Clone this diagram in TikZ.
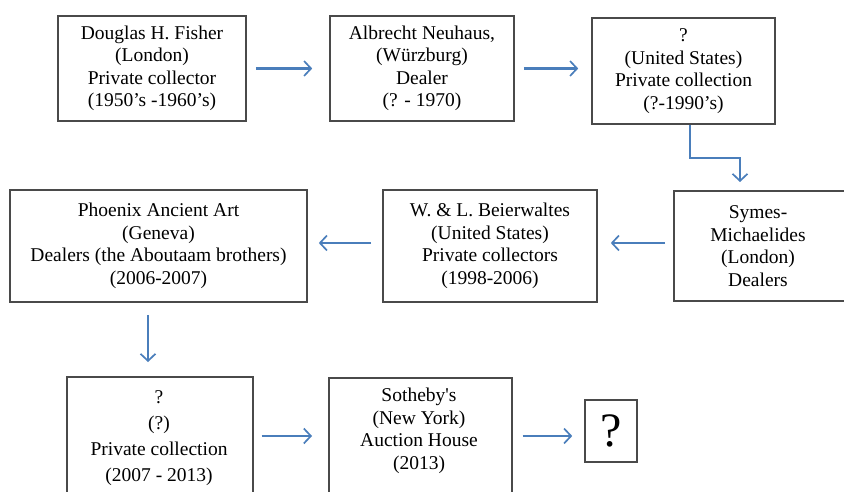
\documentclass[tikz,border=0pt]{standalone}
\usepackage{fontspec}
\setmainfont{Liberation Serif}
\usetikzlibrary{arrows.meta}
\definecolor{arrblue}{HTML}{4A7EBB}
\definecolor{boxgray}{HTML}{4A4A4A}
\begin{document}
\begin{tikzpicture}[x=1pt,y=-1pt,
  txt/.style={align=center,inner sep=0pt,font=\fontsize{19.5}{22.5}\selectfont},
  box/.style={draw=boxgray,line width=1.6pt,fill=white,txt},
  flow/.style={draw=arrblue,line width=2.1pt,-{Straight Barb[length=7pt,width=15pt,line width=1.7pt]}}]
\useasboundingbox (0,0) rectangle (844,492);
% helper: box from corner coordinates
\newcommand{\provbox}[6]{%
  \node[box,minimum width=#4-#2,minimum height=#5-#3] (#1) at ({(#2+#4)/2},{(#3+#5)/2}) {#6};}
\provbox{b1}{58}{16}{246}{121}{Douglas H. Fisher\\(London)\\Private collector\\(1950’s -1960’s)}
\provbox{b2}{330}{16}{514}{121}{Albrecht Neuhaus,\\(Würzburg)\\Dealer\\(? - 1970)}
\provbox{b3}{592}{18}{775}{124}{?\\(United States)\\Private collection\\(?-1990’s)}
\node[box,minimum width=200,minimum height=110,anchor=north west] (b4) at (673,190) {};
\node[txt] (b4t) at (758,246) {Symes-\\Michaelides\\(London)\\Dealers};
\provbox{b5}{383}{190}{597}{302}{W. \& L. Beierwaltes\\(United States)\\Private collectors\\(1998-2006)}
\provbox{b6}{10}{190}{307}{302}{Phoenix Ancient Art\\(Geneva)\\Dealers (the Aboutaam brothers)\\(2006-2007)}
\node[box,minimum width=186,minimum height=130,anchor=north west] (b7) at (66,376) {};
\node[txt,font=\fontsize{19.5}{26}\selectfont] (b7t) at (159,438) {?\\(?)\\Private collection\\(2007 - 2013)};
\node[box,minimum width=183,minimum height=130,anchor=north west] (b8) at (328,377) {};
\node[txt] (b8t) at (419,431) {Sotheby\textquotesingle s\\(New York)\\Auction House\\(2013)};
\provbox{b9}{585}{400}{637}{462}{\fontsize{48}{48}\selectfont ?}
% connectors
\coordinate (e1) at (690,158);
\coordinate (e2) at (740,158);
\draw[flow] ([xshift=9]b1.east) -- ([xshift=-17]b1.east -| b2.west);
\draw[flow] ([xshift=9]b2.east) -- ([xshift=-13]b2.east -| b3.west);
\draw[flow] (b3.south -| e1) -- (e1) -- (e2) -- ([yshift=8]b4.north -| e2);
\draw[flow] ([xshift=-8]b4.west |- 0,243) -- ([xshift=13]b5.east |- 0,243);
\draw[flow] ([xshift=-11]b5.west |- 0,243) -- ([xshift=11]b6.east |- 0,243);
\draw[flow] ([yshift=-12]b6.south -| 148,0) -- ([yshift=14]b7.north -| 148,0);
\draw[flow] ([xshift=8]b7.east |- 0,436) -- ([xshift=-16]b8.west |- 0,436);
\draw[flow] ([xshift=10]b8.east |- 0,436) -- ([xshift=-12]b9.west |- 0,436);
\end{tikzpicture}
\end{document}
